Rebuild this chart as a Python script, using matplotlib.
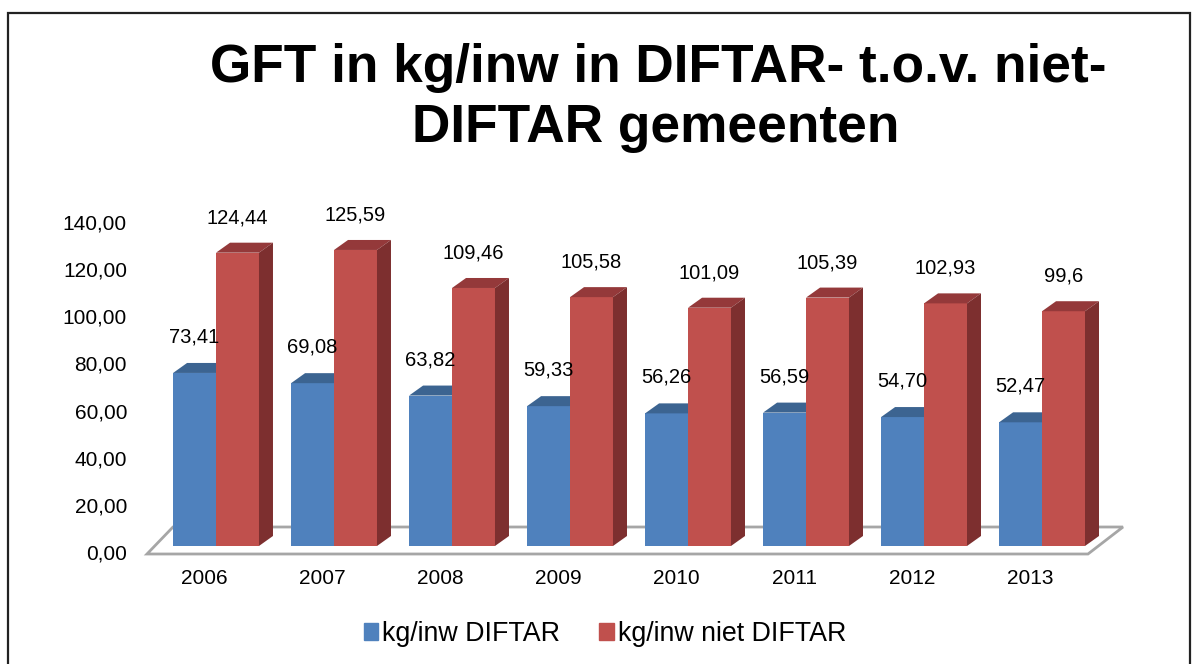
"""GFT in kg/inw: DIFTAR vs niet-DIFTAR gemeenten, Excel-style 3D bars."""
import numpy as np
import matplotlib
matplotlib.use("Agg")
import matplotlib.pyplot as plt
from matplotlib.patches import Polygon, Patch, Rectangle

plt.rcParams["font.family"] = ["Liberation Sans", "DejaVu Sans"]

YEARS = ["2006", "2007", "2008", "2009", "2010", "2011", "2012", "2013"]
DIFTAR = [73.41, 69.08, 63.82, 59.33, 56.26, 56.59, 54.70, 52.47]
NIET_DIFTAR = [124.44, 125.59, 109.46, 105.58, 101.09, 105.39, 102.93, 99.6]
SERIES = ["kg/inw DIFTAR", "kg/inw niet DIFTAR"]
YTICKS = list(range(0, 141, 20))

BLUE, BLUE_TOP = "#4F81BD", "#3C6491"
RED, RED_TOP, RED_SIDE = "#C0504D", "#94393A", "#7D2F2F"
FLOOR = "#A6A6A6"

W, H = 1197, 664
BAR_W = 0.364          # category units
DEPTH_PX = (14, 10)    # 3D offset of bar tops/sides in pixels


def fmt(v, nd=2):
    return f"{v:.{nd}f}".replace(".", ",")


def main():
    fig = plt.figure(figsize=(W / 100, H / 100), dpi=100)
    ax = fig.add_axes([147 / W, 1 - 554 / H, (1123 - 147) / W, (554 - 216) / H])
    ax.set_xlim(-0.585, 7.686)
    ax.set_ylim(-3.4, 140)
    ax.axis("off")

    x0, x1 = ax.get_xlim()
    y0, y1 = ax.get_ylim()
    bb = ax.get_window_extent()
    sx = (x1 - x0) / bb.width
    sy = (y1 - y0) / bb.height
    dx, dy = DEPTH_PX[0] * sx, DEPTH_PX[1] * sy

    # floor outline (front edge slightly below the bars, back edge behind)
    fx_r = x0 + 941 * sx
    back_y = y0 + 27 * sy
    floor = Polygon([(x0, y0), (fx_r, y0), (x1, back_y), (x0 + 26 * sx, back_y)],
                    closed=True, facecolor="white", edgecolor=FLOOR, lw=2.0,
                    zorder=1, clip_on=False)
    ax.add_patch(floor)

    idx = np.arange(len(YEARS))
    ax.bar(idx - BAR_W / 2, DIFTAR, width=BAR_W, color=BLUE, zorder=2)
    ax.bar(idx + BAR_W / 2, NIET_DIFTAR, width=BAR_W, color=RED, zorder=3)

    for i, (b, r) in enumerate(zip(DIFTAR, NIET_DIFTAR)):
        xl = i - BAR_W
        ax.add_patch(Polygon([(xl, b), (i, b), (i + dx, b + dy), (xl + dx, b + dy)],
                             color=BLUE_TOP, zorder=2.5, lw=0))
        xr = i + BAR_W
        ax.add_patch(Polygon([(i, r), (xr, r), (xr + dx, r + dy), (i + dx, r + dy)],
                             color=RED_TOP, zorder=3.5, lw=0))
        ax.add_patch(Polygon([(xr, 0), (xr + dx, dy), (xr + dx, r + dy), (xr, r)],
                             color=RED_SIDE, zorder=3.5, lw=0))
        ax.annotate(fmt(b), (i - BAR_W / 2, b), xytext=(0, 36), textcoords="offset pixels",
                    ha="center", va="center", fontsize=14.5, annotation_clip=False)
        ax.annotate(f"{r:g}".replace(".", ","), (i + BAR_W / 2, r), xytext=(0, 35),
                    textcoords="offset pixels", ha="center", va="center",
                    fontsize=14.5, annotation_clip=False)
        ax.annotate(YEARS[i], (i, y0), xytext=(-12, -24), textcoords="offset pixels",
                    ha="center", va="center", fontsize=15, annotation_clip=False)

    for t in YTICKS:
        ax.annotate(fmt(t), (x0, t), xytext=(-20, -8), textcoords="offset pixels",
                    ha="right", va="center", fontsize=15, annotation_clip=False)

    fig.text(658 / W, 1 - 82 / H, "GFT in kg/inw in DIFTAR- t.o.v. niet-",
             ha="center", va="baseline", fontsize=38.3, fontweight="bold")
    fig.text(656 / W, 1 - 142 / H, "DIFTAR gemeenten",
             ha="center", va="baseline", fontsize=38.3, fontweight="bold")

    handles = [Patch(color=BLUE, label=SERIES[0]), Patch(color=RED, label=SERIES[1])]
    fig.legend(handles=handles, loc="center", bbox_to_anchor=(605 / W, 1 - 634 / H),
               ncol=2, frameon=False, fontsize=19.3, handlelength=0.55, handleheight=0.55,
               handletextpad=0.15, columnspacing=1.45)

    fig.add_artist(Rectangle((8 / W, -0.05), (1190 - 8) / W, 1.05 - 13 / H,
                             transform=fig.transFigure, fill=False,
                             edgecolor="#222222", lw=1.6))
    fig.savefig("out.png", dpi=100, facecolor="white")


if __name__ == "__main__":
    main()
